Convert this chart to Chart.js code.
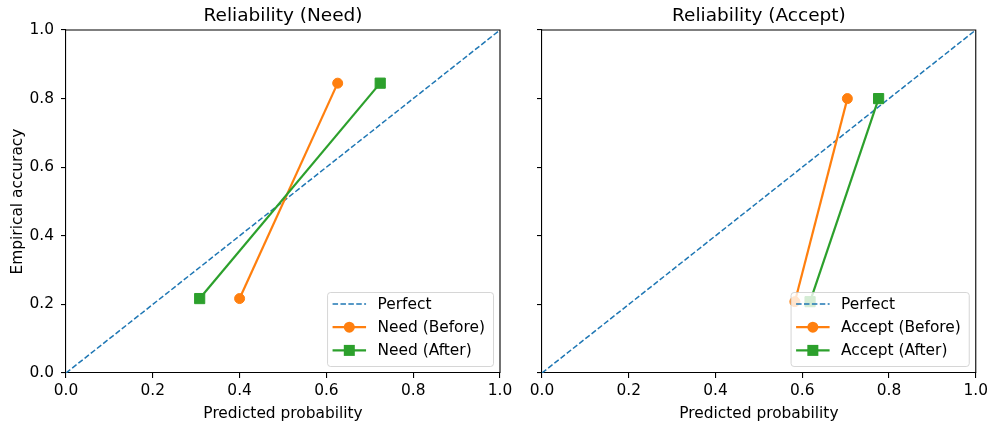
<!DOCTYPE html>
<html><head><meta charset="utf-8">
<script src="https://cdn.jsdelivr.net/npm/chart.js@4/dist/chart.umd.min.js"></script>
<style>
html,body{margin:0;padding:0;background:#fff;}
#wrap{position:relative;width:989px;height:423px;overflow:hidden;}
canvas{position:absolute;top:0;}
</style></head><body>
<div id="wrap">
<canvas id="c1" width="520" height="423" style="left:0px"></canvas>
<canvas id="c2" width="472" height="423" style="left:520px"></canvas>
</div>
<script>
// ---- data ----
const tickValues = [0, 0.2, 0.4, 0.6, 0.8, 1.0];
const tickLabels = ['0.0', '0.2', '0.4', '0.6', '0.8', '1.0'];
const titles = ['Reliability (Need)', 'Reliability (Accept)'];
const xAxisTitle = 'Predicted probability';
const yAxisTitle = 'Empirical accuracy';
const perfectX = [0, 1];
const perfectY = [0, 1];
const needBeforeX = [0.400, 0.626];
const needBeforeY = [0.217, 0.845];
const needAfterX = [0.308, 0.724];
const needAfterY = [0.217, 0.845];
const acceptBeforeX = [0.583, 0.704];
const acceptBeforeY = [0.208, 0.800];
const acceptAfterX = [0.618, 0.776];
const acceptAfterY = [0.208, 0.800];
const seriesLabels = [
  ['Perfect', 'Need (Before)', 'Need (After)'],
  ['Perfect', 'Accept (Before)', 'Accept (After)']
];

const BLUE = '#1f77b4', ORANGE = '#ff7f0e', GREEN = '#2ca02c';
const FONT = '"DejaVu Sans", "Liberation Sans", sans-serif';
const SMALL = 15.4, BIG = 18.5;
const pts = (xs, ys) => xs.map((x, i) => ({x: x, y: ys[i]}));

const framePlugin = {
  id: 'frame',
  afterDatasetsDraw(chart) {
    const ctx = chart.ctx, a = chart.chartArea;
    ctx.save();
    ctx.strokeStyle = '#000';
    ctx.lineWidth = 1.1;
    ctx.beginPath();
    ctx.moveTo(a.left, a.top); ctx.lineTo(a.right, a.top); ctx.lineTo(a.right, a.bottom);
    ctx.stroke();
    ctx.restore();
  }
};

const legendPlugin = {
  id: 'mlLegend',
  afterDatasetsDraw(chart, args, opts) {
    const ctx = chart.ctx, a = chart.chartArea;
    ctx.save();
    ctx.font = SMALL + 'px ' + FONT;
    const items = opts.items || [];
    const tw = Math.max(...items.map(i => ctx.measureText(i.label).width));
    const w = tw + 58.5, h = 74;
    const right = a.right - 7, bottom = a.bottom - 7;
    const left = right - w, top = bottom - h;
    ctx.beginPath();
    if (ctx.roundRect) ctx.roundRect(left + 0.5, top + 0.5, w, h, 3);
    else ctx.rect(left + 0.5, top + 0.5, w, h);
    ctx.fillStyle = 'rgba(255,255,255,0.8)';
    ctx.fill();
    ctx.strokeStyle = 'rgba(204,204,204,0.8)';
    ctx.lineWidth = 1;
    ctx.stroke();
    items.forEach((it, i) => {
      const y = top + 12 + i * 23.2;
      const x0 = left + 5.5, x1 = x0 + 33.5, xm = (x0 + x1) / 2;
      ctx.strokeStyle = it.color;
      ctx.lineWidth = it.lw || 2.2;
      ctx.setLineDash(it.dash || []);
      ctx.beginPath(); ctx.moveTo(x0, y); ctx.lineTo(x1, y); ctx.stroke();
      ctx.setLineDash([]);
      ctx.fillStyle = it.color;
      if (it.marker === 'circle') {
        ctx.beginPath(); ctx.arc(xm, y, 5.5, 0, Math.PI * 2); ctx.fill();
      } else if (it.marker === 'rect') {
        ctx.fillRect(xm - 5.5, y - 5.5, 11, 11);
      }
      ctx.fillStyle = '#000';
      ctx.textBaseline = 'middle';
      ctx.textAlign = 'left';
      ctx.fillText(it.label, x1 + 11.5, y + 0.5);
    });
    ctx.restore();
  }
};

const textPlugin = {
  id: 'mlText',
  afterDraw(chart, args, opts) {
    const ctx = chart.ctx, a = chart.chartArea;
    ctx.save();
    ctx.fillStyle = '#000';
    ctx.textAlign = 'center';
    ctx.textBaseline = 'alphabetic';
    ctx.font = BIG + 'px ' + FONT;
    ctx.fillText(opts.title, (a.left + a.right) / 2, 21);
    ctx.font = SMALL + 'px ' + FONT;
    ctx.fillText(opts.xTitle, (a.left + a.right) / 2, 417.5);
    if (opts.yTitle) {
      ctx.translate(22, (a.top + a.bottom) / 2);
      ctx.rotate(-Math.PI / 2);
      ctx.fillText(opts.yTitle, 0, 0);
    }
    ctx.restore();
  }
};

function makeChart(id, idx, bx, by, ax, ay, yWidth, showYLabels, padRight) {
  const labels = seriesLabels[idx];
  const datasets = [
    {label: labels[0], data: pts(perfectX, perfectY), showLine: true, borderColor: BLUE,
     borderWidth: 1.5, borderDash: [5.5, 2.4], pointRadius: 0, order: 2},
    {label: labels[1], data: pts(bx, by), showLine: true, borderColor: ORANGE, backgroundColor: ORANGE,
     borderWidth: 2.2, pointStyle: 'circle', pointRadius: 5, pointBorderWidth: 1,
     pointBackgroundColor: ORANGE, pointBorderColor: ORANGE, order: 1},
    {label: labels[2], data: pts(ax, ay), showLine: true, borderColor: GREEN, backgroundColor: GREEN,
     borderWidth: 2.2, pointStyle: 'rect', pointRadius: 7.2, pointBorderWidth: 1,
     pointBackgroundColor: GREEN, pointBorderColor: GREEN, order: 0}
  ];
  const tickFont = {family: FONT, size: SMALL};
  const axisCommon = {
    type: 'linear', min: 0, max: 1,
    afterBuildTicks: s => { s.ticks = tickValues.map(v => ({value: v})); },
    grid: {drawOnChartArea: false, drawTicks: true, tickLength: 5, color: '#000', lineWidth: 1.1},
    border: {display: true, color: '#000', width: 1.1}
  };
  return new Chart(document.getElementById(id), {
    type: 'scatter',
    data: {datasets},
    options: {
      responsive: false, animation: false, devicePixelRatio: 1,
      layout: {padding: {top: 30, right: padRight, bottom: 0, left: 0}},
      plugins: {
        legend: {display: false}, tooltip: {enabled: false}, title: {display: false},
        mlLegend: {items: [
          {label: labels[0], color: BLUE, dash: [5.5, 2.4], lw: 1.5},
          {label: labels[1], color: ORANGE, marker: 'circle'},
          {label: labels[2], color: GREEN, marker: 'rect'}
        ]},
        mlText: {title: titles[idx], xTitle: xAxisTitle, yTitle: showYLabels ? yAxisTitle : null}
      },
      scales: {
        x: Object.assign({}, axisCommon, {
          position: 'bottom',
          afterFit: s => { s.height = 50; },
          ticks: {font: tickFont, color: '#000', padding: 4, maxRotation: 0, autoSkip: false,
                  callback: (v, i) => tickLabels[i]}
        }),
        y: Object.assign({}, axisCommon, {
          position: 'left',
          afterFit: s => { s.width = yWidth; },
          ticks: {font: tickFont, color: showYLabels ? '#000' : 'rgba(0,0,0,0)', padding: 7, autoSkip: false,
                  callback: (v, i) => tickLabels[i]}
        })
      }
    },
    plugins: [framePlugin, legendPlugin, textPlugin]
  });
}

makeChart('c1', 0, needBeforeX, needBeforeY, needAfterX, needAfterY, 66, true, 20);
makeChart('c2', 1, acceptBeforeX, acceptBeforeY, acceptAfterX, acceptAfterY, 22, false, 16);
</script>
</body></html>
